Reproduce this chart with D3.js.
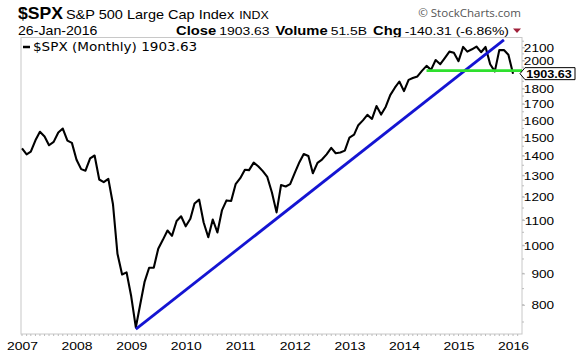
<!DOCTYPE html>
<html><head><meta charset="utf-8">
<script src="https://cdn.jsdelivr.net/npm/d3@7"></script>
<style>body{margin:0;background:#fff}svg{display:block}</style>
</head><body>
<script>
// ---------- data ----------
const symbol = "$SPX";
const title = "S&P 500 Large Cap Index";
const exchange = "INDX";
const dateLabel = "26-Jan-2016";
const closeLabel = "1903.63";
const volumeLabel = "51.5B";
const changeLabel = "-140.31 (-6.86%)";
const legendLabel = "$SPX (Monthly) 1903.63";
const lastValue = 1903.63;
const firstMonth = "2007-01-01";
const closes = [
  1438.2,1406.8,1420.9,1482.4,1530.6,1503.4,1455.3,1474.0,1526.8,1549.4,1481.1,1468.4,
  1378.6,1330.6,1322.7,1385.6,1400.4,1280.0,1267.4,1282.8,1166.4,968.8,896.2,903.3,
  825.9,735.1,797.9,872.8,919.1,919.3,987.5,1020.6,1057.1,1036.2,1095.6,1115.1,
  1073.9,1104.5,1169.4,1186.7,1089.4,1030.7,1101.6,1049.3,1141.2,1183.3,1180.6,1257.6,
  1286.1,1327.2,1325.8,1363.6,1345.2,1320.6,1292.3,1218.9,1131.4,1253.3,1247.0,1257.6,
  1312.4,1365.7,1408.5,1397.9,1310.3,1362.2,1379.3,1406.6,1440.7,1412.2,1416.2,1426.2,
  1498.1,1514.7,1569.2,1597.6,1630.7,1606.3,1685.7,1633.0,1681.6,1756.5,1805.8,1848.4,
  1782.6,1859.5,1872.3,1884.0,1923.6,1960.2,1930.7,2003.4,1972.3,2018.1,2067.6,2058.9,
  1995.0,2104.5,2067.9,2085.5,2107.4,2063.1,2103.8,1972.2,1920.0,2079.4,2080.4,2043.9,
  1903.6
];
const yearLabels = ["2007","2008","2009","2010","2011","2012","2013","2014","2015","2016"];
const yTickValues = [800,900,1000,1100,1200,1300,1400,1500,1600,1700,1800,2000,2100];
const trendDates = ["2009-02-01","2015-11-01"];
const trendValues = [730, 2160];
const supportDates = ["2014-06-01","2016-03-01"];
const supportValues = [1925, 1925];

// ---------- layout ----------
const W = 576, H = 356;
const L = 21, R = 522, T = 37.5, B = 334;
const SX = 1.18;
const SANS = "'Liberation Sans', Arial, sans-serif";

const svg = d3.select("body").append("svg").attr("width", W).attr("height", H);
const parse = d3.timeParse("%Y-%m-%d");
const months = d3.timeMonth.range(parse(firstMonth), d3.timeMonth.offset(parse(firstMonth), closes.length));
const series = months.map((d, i) => ({date: d, value: closes[i]}));

const x = d3.scaleTime().domain([parse("2007-01-01"), parse("2016-03-01")]).range([22, R]);
const y = d3.scaleLog().domain([717, 2180]).range([B, T]);

function stext(parent, px, py, str, o = {}) {
  const sx = o.sx || SX;
  const t = parent.append("text")
    .attr("transform", `translate(${px},${py}) scale(${sx},1)`)
    .style("font-family", o.family || SANS)
    .style("font-size", (o.size || 11) + "px")
    .style("font-weight", o.weight || "normal")
    .attr("fill", o.fill || "#000")
    .attr("text-anchor", o.anchor || "start")
    .text(str);
  return t.node().getComputedTextLength() * sx;
}

// ---------- header ----------
const hdr = svg.append("g");
let cx = 18;
cx += stext(hdr, cx, 19, symbol, {size: 16, weight: "bold", sx: 1.1}) + 3;
cx += stext(hdr, cx, 19, title, {size: 12.3}) + 5;
stext(hdr, cx, 19, exchange, {size: 10.5});
stext(hdr, 521, 17, "\u00A9 StockCharts.com", {size: 11, anchor: "end", fill: "#555", family: "'Open Sans', sans-serif", sx: 1.05});
stext(hdr, 18, 35, dateLabel, {size: 12});

// row 2 right-aligned
const row = [
  {s: "Close", w: "bold", size: 12.5, gap: 3},
  {s: closeLabel, w: "normal", size: 11.8, gap: 6},
  {s: "Volume", w: "bold", size: 12.5, gap: 3},
  {s: volumeLabel, w: "normal", size: 11.8, gap: 6},
  {s: "Chg", w: "bold", size: 12.5, gap: 3},
  {s: changeLabel, w: "normal", size: 11.8, gap: 4}
];
const tmp = svg.append("g");
let total = 0;
row.forEach(r => { r.width = stext(tmp, 0, -100, r.s, {size: r.size, weight: r.w}); total += r.width + r.gap; });
tmp.remove();
total += 8;
cx = 521 - total;
row.forEach(r => { stext(hdr, cx, 35, r.s, {size: r.size, weight: r.w}); cx += r.width + r.gap; });
hdr.append("path").attr("d", `M${cx},28.5 L${cx + 8},28.5 L${cx + 4},33 Z`).attr("fill", "#a0203a");

// ---------- plot frame ----------
svg.append("defs").append("clipPath").attr("id", "clip")
  .append("rect").attr("x", L).attr("y", T).attr("width", R - L).attr("height", B - T);
svg.append("rect").attr("x", L).attr("y", T).attr("width", R - L).attr("height", B - T)
  .attr("fill", "#fff").attr("stroke", "#c8c8c8").attr("stroke-width", 1);

// minor ticks bottom (monthly)
const allMonths = d3.timeMonth.range(parse("2007-01-01"), parse("2016-03-01"));
svg.append("g").selectAll("line").data(allMonths).join("line")
  .attr("x1", d => x(d)).attr("x2", d => x(d)).attr("y1", B).attr("y2", B + 2)
  .attr("stroke", "#bbb").attr("stroke-width", 1);

// x axis labels
const xAxis = d3.axisBottom(x)
  .tickValues(yearLabels.map(s => parse(s + "-01-01")))
  .tickFormat((d, i) => yearLabels[i]).tickSize(0).tickPadding(8);
const gx = svg.append("g").attr("transform", `translate(0,${B})`).call(xAxis);
gx.select(".domain").remove();
gx.selectAll("text").style("font-family", SANS).style("font-size", "11.8px").attr("fill", "#000")
  .attr("x", 0).attr("y", 0).attr("dy", "0").attr("transform", `translate(0,15.5) scale(${SX},1)`);

// y axis (right)
const minorY = d3.range(750, 2200, 50);
svg.append("g").selectAll("line").data(minorY).join("line")
  .attr("x1", R).attr("x2", R + 2).attr("y1", d => y(d)).attr("y2", d => y(d))
  .attr("stroke", "#bbb");
const yAxis = d3.axisRight(y).tickValues(yTickValues).tickFormat(d3.format("d")).tickSize(3).tickPadding(0);
const gy = svg.append("g").attr("transform", `translate(${R},0)`).call(yAxis);
gy.select(".domain").remove();
gy.selectAll("line").attr("stroke", "#bbb");
gy.selectAll("text").style("font-family", SANS).style("font-size", "11.5px").attr("fill", "#000")
  .attr("text-anchor", "end").attr("x", 0).attr("dy", "0.36em")
  .attr("transform", `translate(32,0) scale(${SX},1)`);

// ---------- lines ----------
const plot = svg.append("g").attr("clip-path", "url(#clip)");
const line = d3.line().x(d => x(d.date)).y(d => y(d.value));

plot.append("path").datum(series).attr("d", line)
  .attr("fill", "none").attr("stroke", "#000").attr("stroke-width", 2.1).attr("stroke-linejoin", "round");

const trend = trendDates.map((d, i) => ({date: parse(d), value: trendValues[i]}));
plot.append("path").datum(trend).attr("d", line)
  .attr("fill", "none").attr("stroke", "#1414d2").attr("stroke-width", 2.8);

const support = supportDates.map((d, i) => ({date: parse(d), value: supportValues[i]}));
plot.append("path").datum(support).attr("d", line)
  .attr("fill", "none").attr("stroke", "#2ee02e").attr("stroke-width", 2.6);

// legend
svg.append("line").attr("x1", 23).attr("x2", 30).attr("y1", 47).attr("y2", 47)
  .attr("stroke", "#000").attr("stroke-width", 2.5);
stext(svg, 33, 51, legendLabel, {size: 11.5, family: "'DejaVu Sans', Verdana, sans-serif"});

// last value tag
const ly = y(lastValue);
svg.append("path")
  .attr("d", `M${R - 2},${ly} L${R + 3},${ly - 6} L575,${ly - 6} L575,${ly + 6} L${R + 3},${ly + 6} Z`)
  .attr("fill", "#fff").attr("stroke", "#000").attr("stroke-width", 1);
stext(svg, 549, ly + 4.5, closeLabel, {size: 11.5, weight: "bold", anchor: "middle", sx: 1.1});
</script>
</body></html>
